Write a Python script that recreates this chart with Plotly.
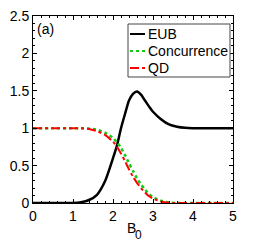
import plotly.graph_objects as go

b0 = [0, 0.5, 1.0, 1.2, 1.4, 1.6, 1.8, 2.0, 2.1, 2.2, 2.3, 2.4, 2.5, 2.6, 2.7, 2.8, 2.9, 3.0, 3.2, 3.4, 3.6, 3.8, 4.0, 4.5, 5.0]
eub = [0, 0, 0.0, 0.01, 0.04, 0.11, 0.29, 0.60, 0.77, 1.00, 1.19, 1.37, 1.46, 1.49, 1.45, 1.37, 1.29, 1.22, 1.12, 1.05, 1.02, 1.005, 1.0, 1.0, 1.0]
concurrence = [1, 1, 1, 1, 0.995, 0.98, 0.94, 0.87, 0.81, 0.74, 0.64, 0.53, 0.43, 0.33, 0.25, 0.18, 0.12, 0.08, 0.03, 0.005, 0, 0, 0, 0, 0]
qd = [1, 1, 1, 1, 0.99, 0.96, 0.91, 0.82, 0.75, 0.66, 0.56, 0.45, 0.35, 0.27, 0.20, 0.14, 0.09, 0.06, 0.02, 0.003, 0, 0, 0, 0, 0]

names = ["EUB", "Concurrence", "QD"]
colors = ["black", "#11cc11", "red"]
dashes = ["solid", "dot", "dashdot"]
widths = [2.5, 2.5, 2]
legend_widths = [2, 2, 1.8]
series = [eub, concurrence, qd]

font = "Liberation Sans, Arial, sans-serif"

fig = go.Figure()
for n, c, d, w, s in zip(names, colors, dashes, widths, series):
    fig.add_trace(go.Scatter(x=b0, y=s, mode="lines", name=n, showlegend=False,
                             line=dict(color=c, width=w, dash=d, shape="spline", smoothing=0.6)))

# page has an 8px body margin; figure placed at (8, 8) in the window
OFF = 8
W, H = 200.0, 187.0
def px(xp):
    return (xp - 33) / W
def py(yp):
    return (203 - yp) / H

shapes = [dict(type="rect", xref="paper", yref="paper", x0=px(128), x1=px(230), y0=py(77), y1=py(24),
               line=dict(color="#444", width=1), fillcolor="white", layer="above")]
annotations = []
rows = [34, 51, 68]
for n, c, d, w, yr in zip(names, colors, dashes, legend_widths, rows):
    shapes.append(dict(type="line", xref="paper", yref="paper", x0=px(130), x1=px(145), y0=py(yr), y1=py(yr),
                       line=dict(color=c, width=w, dash=d), layer="above"))
    annotations.append(dict(text=n, x=px(146), y=py(yr), xref="paper", yref="paper",
                            xanchor="left", yanchor="middle", showarrow=False,
                            font=dict(family=font, size=14, color="black")))
annotations.append(dict(text="(a)", x=0.01, y=0.985, xref="paper", yref="paper",
                        xanchor="left", yanchor="top", showarrow=False,
                        font=dict(family=font, size=14, color="black")))
# x-axis title B_0
annotations.append(dict(text="B", x=px(131.5), y=py(227.5), xref="paper", yref="paper",
                        xanchor="center", yanchor="middle", showarrow=False,
                        font=dict(family=font, size=14, color="black")))
annotations.append(dict(text="0", x=px(138.5), y=py(235), xref="paper", yref="paper",
                        xanchor="center", yanchor="middle", showarrow=False,
                        font=dict(family=font, size=12, color="black")))

axis_common = dict(showline=True, linecolor="black", linewidth=1, mirror="allticks",
                   ticks="inside", ticklen=4, tickcolor="black", showgrid=False, zeroline=False,
                   automargin=False, ticklabeloverflow="allow",
                   tickfont=dict(family=font, size=14, color="black"))

fig.update_layout(
    width=258 - OFF, height=242 - OFF,
    margin=dict(l=33 - OFF, r=25, t=16 - OFF, b=39),
    paper_bgcolor="white", plot_bgcolor="white",
    showlegend=False,
    xaxis=dict(range=[0, 5], tickvals=[0, 1, 2, 3, 4, 5],
               minor=dict(dtick=0.2, ticks="inside", ticklen=2, tickcolor="black"),
               **axis_common),
    yaxis=dict(range=[0, 2.5], tickvals=[0, 0.5, 1, 1.5, 2, 2.5], ticktext=["0", "0.5", "1", "1.5", "2", "2.5"],
               minor=dict(dtick=0.1, ticks="inside", ticklen=2, tickcolor="black"),
               **axis_common),
    shapes=shapes,
    annotations=annotations,
)

fig.write_html("out.html")
